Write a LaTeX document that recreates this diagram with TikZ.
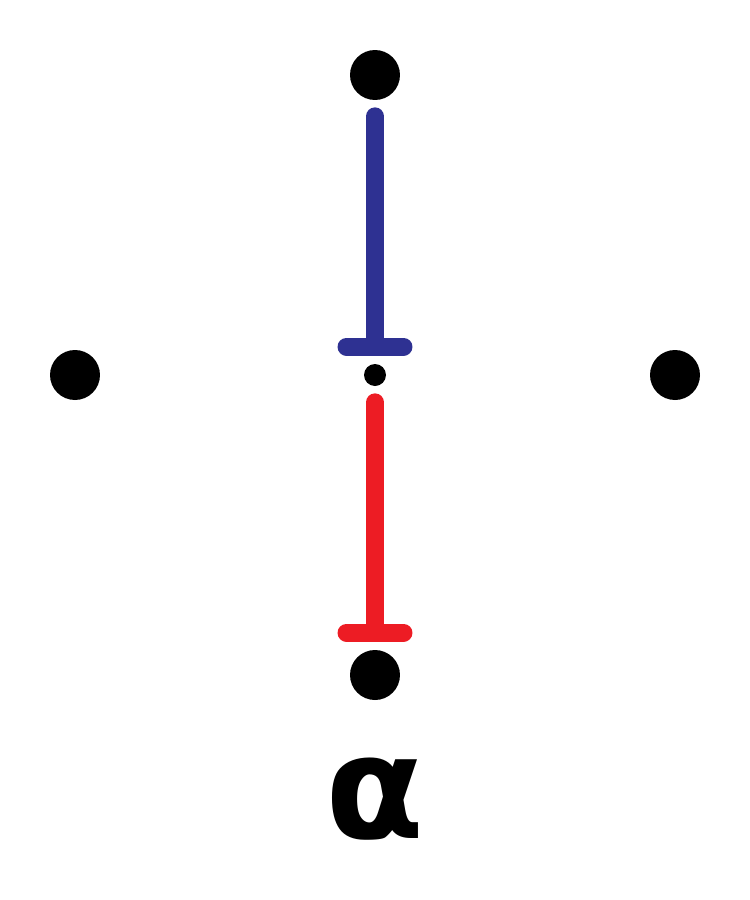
\documentclass[tikz,border=0pt]{standalone}
\usepackage{fontspec}
\usepackage{tikz}
\usetikzlibrary{positioning}
\usetikzlibrary{arrows.meta,calc}
\newfontfamily\greekfont{DejaVu Sans}
\definecolor{inhblue}{RGB}{46,49,146}
\definecolor{inhred}{RGB}{237,28,36}
\tikzstyle{site} = [circle, fill=black, inner sep=0pt, minimum size=1cm]
\tikzstyle{hub} = [circle, fill=black, inner sep=0pt, minimum size=0.44cm]
\tikzstyle{inhibit} = [line width=0.36cm, line cap=round, -{Bar[width=1.14cm,round]}, shorten <=0.32cm, shorten >=0.16cm]

\begin{document}
\begin{tikzpicture}[x=0.02cm, y=-0.02cm]
\useasboundingbox (0,0) rectangle (750,900);
\node (C) [hub] at (375,375) {};
\node (N) [site] at (375,75) {};
\node (W) [site] at (75,375) {};
\node (E) [site] at (675,375) {};
\node (S) [site] at (375,675) {};
\draw [inhibit, inhblue] (N) -- (C);
\draw [inhibit, inhred] (C) -- (S);
\node (L) [anchor=base, inner sep=0pt, font=\greekfont\bfseries\fontsize{82}{90}\selectfont] at (375,838) {α};
\end{tikzpicture}
\end{document}
